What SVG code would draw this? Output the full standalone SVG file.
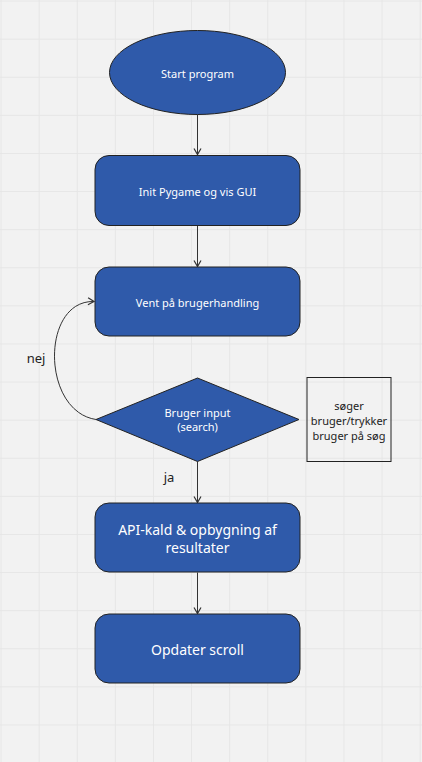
<svg xmlns="http://www.w3.org/2000/svg" width="422" height="762" viewBox="0 0 422 762">
<style>
.node{fill:#2f5aaa;stroke:#222;stroke-width:1}
.lbl{fill:#ffffff;font-family:"Noto Sans","Open Sans",sans-serif;font-size:11px;text-anchor:middle;dominant-baseline:central}
.big{font-size:14px}
.dark{fill:#222;font-family:"Noto Sans","Open Sans",sans-serif;text-anchor:middle;dominant-baseline:central}
.conn{fill:none;stroke:#333;stroke-width:1}
</style>
<defs>
<pattern id="grid" patternUnits="userSpaceOnUse" x="-18" y="-18" width="38.1" height="38.1">
<line x1="19.05" y1="0" x2="19.05" y2="38.1" stroke="#e6e6e6" stroke-width="1"/>
<line x1="0" y1="19.05" x2="38.1" y2="19.05" stroke="#e6e6e6" stroke-width="1"/>
</pattern>
<marker id="arr" markerWidth="10" markerHeight="10" refX="8" refY="5" orient="auto" markerUnits="userSpaceOnUse">
<path d="M2,1.5 L8,5 L2,8.5" fill="none" stroke="#333" stroke-width="1.2"/>
</marker>
</defs>
<rect width="422" height="762" fill="#f2f2f2"/>
<rect width="422" height="762" fill="url(#grid)"/>

<g id="connectors">
<line class="conn" x1="197.5" y1="114.5" x2="197.5" y2="154.5" marker-end="url(#arr)"/>
<line class="conn" x1="197.5" y1="225.5" x2="197.5" y2="266.5" marker-end="url(#arr)"/>
<path class="conn" d="M96,419.5 C41,411 41,300 94,301.5" marker-end="url(#arr)"/>
<line class="conn" x1="197.5" y1="461.5" x2="197.5" y2="502.5" marker-end="url(#arr)"/>
<line class="conn" x1="197.5" y1="572.5" x2="197.5" y2="613.5" marker-end="url(#arr)"/>
<text class="dark" x="36" y="358" font-size="13">nej</text>
<text class="dark" x="169" y="477" font-size="13">ja</text>
</g>

<g id="start">
<ellipse class="node" cx="197.5" cy="72.5" rx="88" ry="42"/>
<text class="lbl" x="197.5" y="73">Start program</text>
</g>
<g id="init">
<rect class="node" x="95" y="155.5" width="205" height="70" rx="14"/>
<text class="lbl" x="197.5" y="191">Init Pygame og vis GUI</text>
</g>
<g id="vent">
<rect class="node" x="95" y="267" width="205" height="69" rx="14"/>
<text class="lbl" x="197.5" y="302">Vent på brugerhandling</text>
</g>
<g id="input">
<polygon class="node" points="197.5,378 299,419.5 197.5,461.5 96,419.5"/>
<text class="lbl" x="197.5" y="412.5">Bruger input</text>
<text class="lbl" x="197.5" y="426.5">(search)</text>
</g>
<g id="note">
<rect x="307" y="377.5" width="84" height="84" fill="none" stroke="#222" stroke-width="1"/>
<text class="dark" x="349" y="405.5" font-size="11">søger</text>
<text class="dark" x="349" y="420" font-size="11">bruger/trykker</text>
<text class="dark" x="349" y="435" font-size="11">bruger på søg</text>
</g>
<g id="api">
<rect class="node" x="95" y="503" width="205" height="69" rx="14"/>
<text class="lbl big" x="197.5" y="529">API-kald &amp; opbygning af</text>
<text class="lbl big" x="197.5" y="547.5">resultater</text>
</g>
<g id="scroll">
<rect class="node" x="95" y="614" width="205" height="69" rx="14"/>
<text class="lbl big" x="197.5" y="649">Opdater scroll</text>
</g>
</svg>
